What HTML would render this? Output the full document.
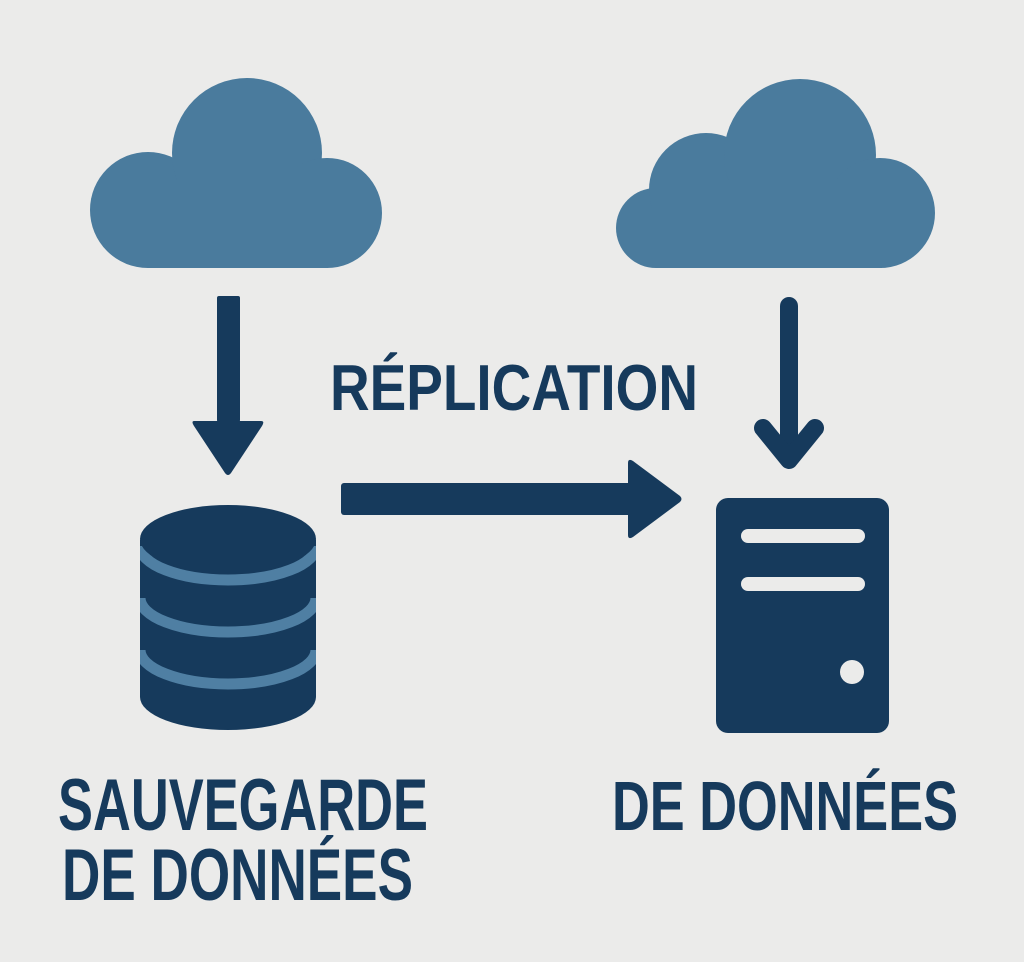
<!DOCTYPE html>
<html><head><meta charset="utf-8"><style>
html,body{margin:0;padding:0;background:#ebebea;}
svg{display:block}
</style></head><body>
<svg width="1024" height="962" viewBox="0 0 1024 962" xmlns="http://www.w3.org/2000/svg">
<defs>
  <clipPath id="cyl"><path d="M140 540 L140 697 A88 33 0 0 0 316 697 L316 540Z"/></clipPath>
</defs>
<rect width="1024" height="962" fill="#ebebea"/>
<g fill="#4a7b9d">
  <circle cx="148" cy="210" r="58"/>
  <circle cx="247" cy="153" r="75"/>
  <circle cx="327" cy="213" r="55"/>
  <rect x="148" y="180" width="180" height="88"/>
</g>
<g fill="#4a7b9d">
  <circle cx="656" cy="228" r="40"/>
  <circle cx="706" cy="190" r="57"/>
  <circle cx="800" cy="155" r="76"/>
  <circle cx="880" cy="213" r="55"/>
  <rect x="656" y="180" width="226" height="88"/>
</g>
<g fill="#163a5c">
  <rect x="217" y="296" width="23" height="126" rx="2"/>
  <path d="M194 421 L261 421 Q265 421 262 426 L231 473 Q228 477 225 473 L194 426 Q191 421 194 421Z"/>
  <rect x="341" y="483" width="292" height="32" rx="3"/>
  <path d="M628 463 Q628 458 633 461 L680 496 Q683 499 680 502 L633 537 Q628 540 628 535Z"/>
</g>
<g stroke="#163a5c" stroke-width="18" stroke-linecap="round" stroke-linejoin="round" fill="none">
  <line x1="789" y1="306" x2="789" y2="455"/>
  <polyline points="763,428 789,460 815,428"/>
</g>
<g>
  <path d="M140 540 L140 697 A88 33 0 0 0 316 697 L316 540Z" fill="#163a5c"/>
  <g stroke="#4f7fa3" stroke-width="11" fill="none" clip-path="url(#cyl)">
    <path d="M140 546 A88 34 0 0 0 316 546"/>
    <path d="M140 598 A88 34 0 0 0 316 598"/>
    <path d="M140 650 A88 34 0 0 0 316 650"/>
  </g>
  <ellipse cx="228" cy="539" rx="88" ry="34" fill="#163a5c"/>
</g>
<rect x="716" y="498" width="173" height="235" rx="12" fill="#163a5c"/>
<rect x="741" y="529" width="124" height="14" rx="7" fill="#ebebea"/>
<rect x="741" y="577" width="124" height="14" rx="7" fill="#ebebea"/>
<circle cx="852" cy="672" r="12" fill="#ebebea"/>
<g fill="#163a5c" font-family="Liberation Sans, sans-serif" font-weight="bold">
  <text x="330" y="410" font-size="65" textLength="368" lengthAdjust="spacingAndGlyphs">RÉPLICATION</text>
  <text x="58" y="830" font-size="73" textLength="370" lengthAdjust="spacingAndGlyphs">SAUVEGARDE</text>
  <text x="62" y="900" font-size="73" textLength="351" lengthAdjust="spacingAndGlyphs">DE DONNÉES</text>
  <text x="612" y="830" font-size="70" textLength="346" lengthAdjust="spacingAndGlyphs">DE DONNÉES</text>
</g>
</svg>
</body></html>
